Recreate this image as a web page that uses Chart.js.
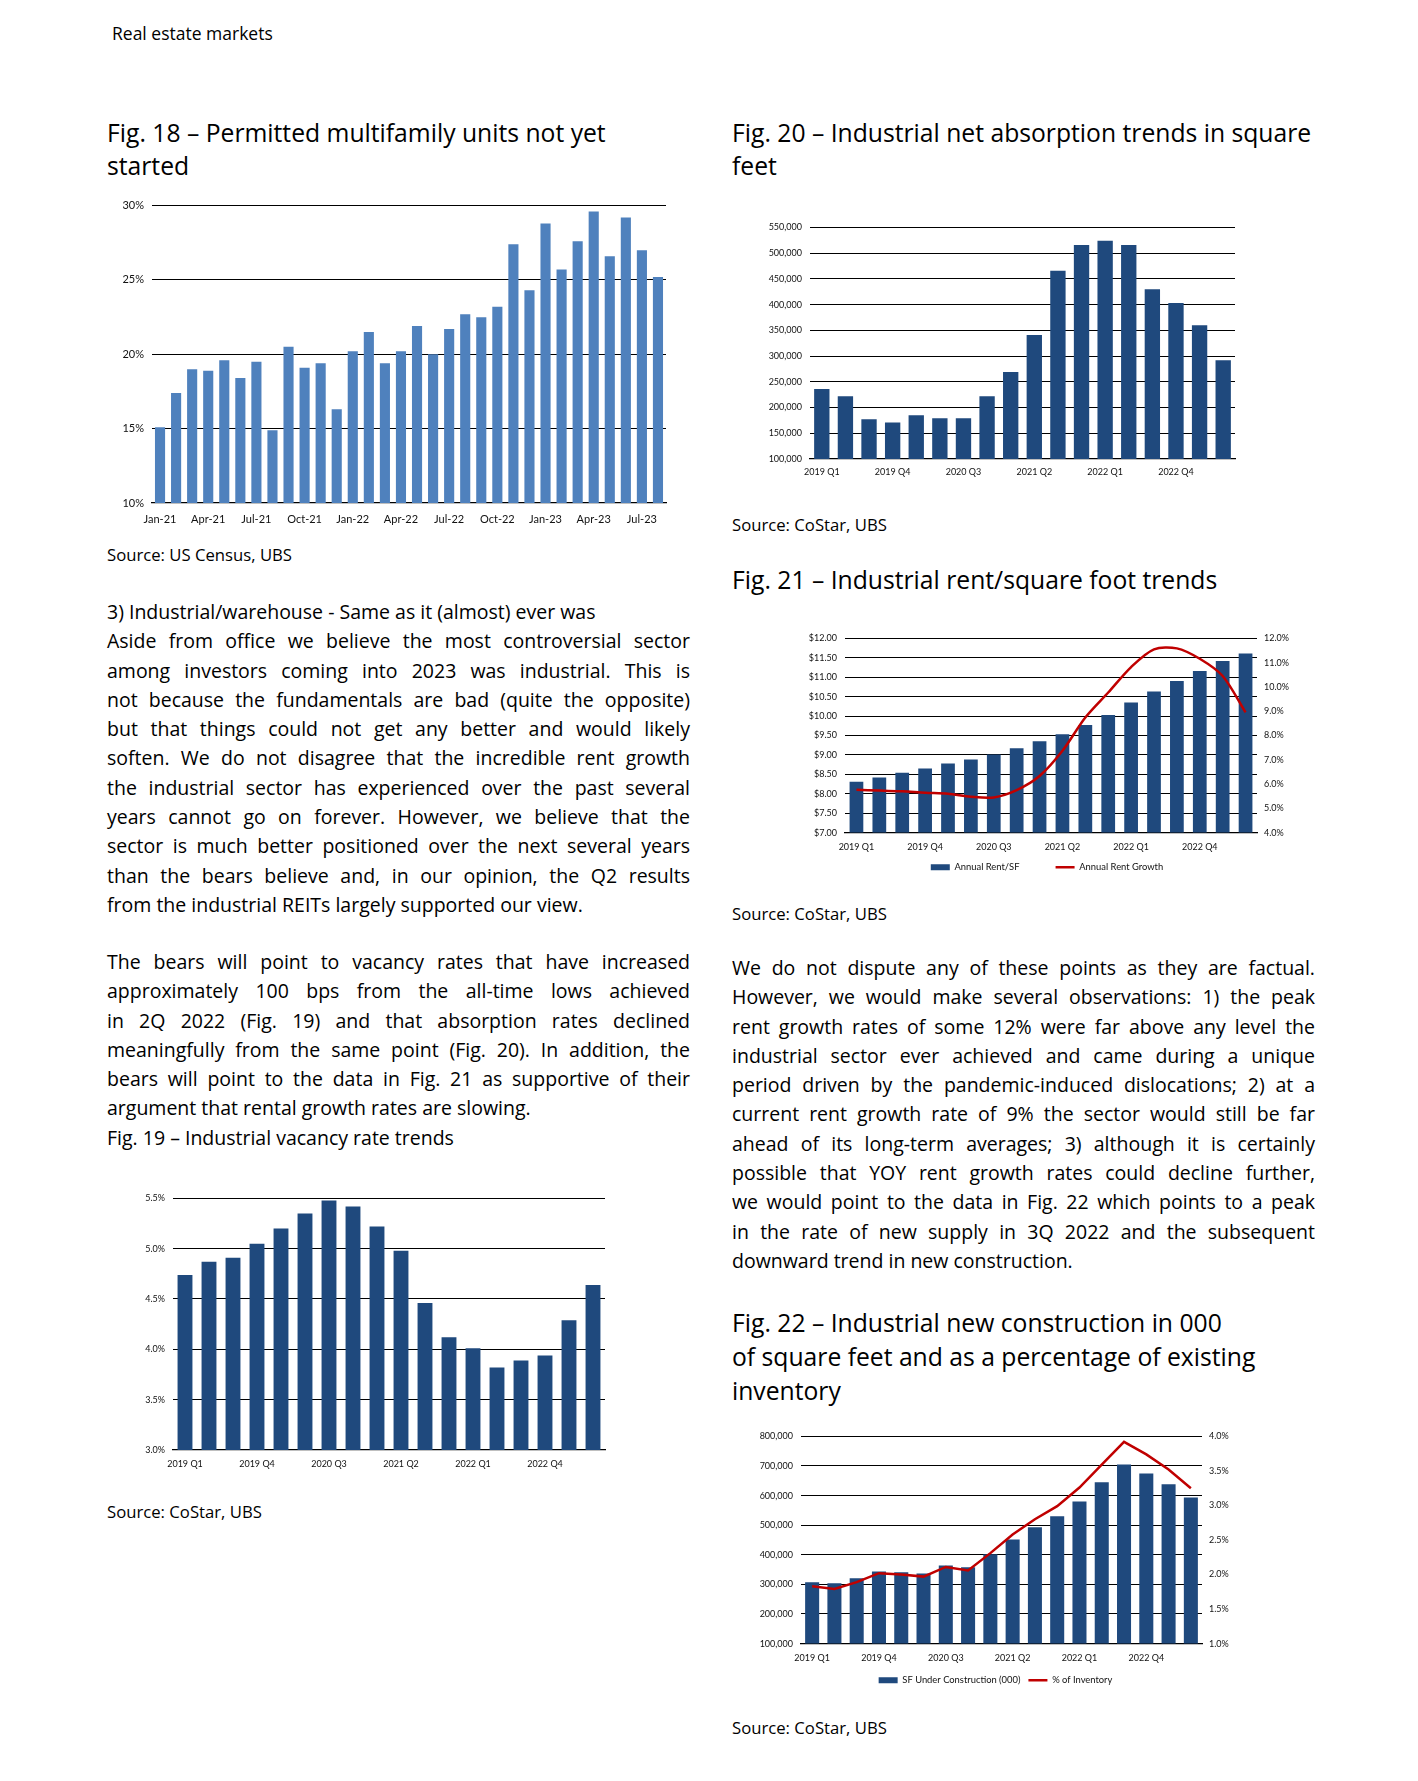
<!DOCTYPE html>
<html lang="en">
<head>
  <meta charset="UTF-8" />
  <title>Real estate markets</title>
  <style>
    * { box-sizing: border-box; }
    body {
      margin: 0;
      width: 1418px;
      height: 1781px;
      background: #fff;
      color: #000;
      font-family: 'Open Sans', 'Lato', sans-serif;
      position: relative;
      overflow: hidden;
    }
    .abs { position: absolute; }
    .header { left: 112px; top: 22px; font-size: 17.5px; line-height: 22px; }
    .title { font-size: 24.7px; line-height: 33px; }
    .source { font-size: 16.7px; line-height: 20px; }
    .para { font-size: 19.5px; line-height: 29.3px; width: 583px; }
    .para div { text-align: justify; text-align-last: justify; height: 29.3px; overflow: visible; }
    .para div.last { text-align: left; text-align-last: left; }
    .chart { position: absolute; }
  </style>
</head>
<body>

<div class="abs header">Real estate markets</div>

<!-- left column -->
<div class="abs title" style="left:107px; top:116px;">Fig. 18 – Permitted multifamily units not yet<br>started</div>
<div class="chart" id="box18"><canvas id="c18"></canvas></div>
<div class="abs source" style="left:107px; top:545px;">Source: US Census, UBS</div>

<div class="abs para" style="left:107px; top:597px;">
  <div class="last">3) Industrial/warehouse - Same as it (almost) ever was</div>
  <div>Aside from office we believe the most controversial sector</div>
  <div>among investors coming into 2023 was industrial. This is</div>
  <div>not because the fundamentals are bad (quite the opposite)</div>
  <div>but that things could not get any better and would likely</div>
  <div>soften. We do not disagree that the incredible rent growth</div>
  <div>the industrial sector has experienced over the past several</div>
  <div>years cannot go on forever. However, we believe that the</div>
  <div>sector is much better positioned over the next several years</div>
  <div>than the bears believe and, in our opinion, the Q2 results</div>
  <div class="last">from the industrial REITs largely supported our view.</div>
</div>

<div class="abs para" style="left:107px; top:947px;">
  <div>The bears will point to vacancy rates that have increased</div>
  <div>approximately 100 bps from the all-time lows achieved</div>
  <div>in 2Q 2022 (Fig. 19) and that absorption rates declined</div>
  <div>meaningfully from the same point (Fig. 20). In addition, the</div>
  <div>bears will point to the data in Fig. 21 as supportive of their</div>
  <div class="last">argument that rental growth rates are slowing.</div>
  <div class="last">Fig. 19 – Industrial vacancy rate trends</div>
</div>

<div class="chart" id="box19"><canvas id="c19"></canvas></div>
<div class="abs source" style="left:107px; top:1502px;">Source: CoStar, UBS</div>

<!-- right column -->
<div class="abs title" style="left:732px; top:116px;">Fig. 20 – Industrial net absorption trends in square<br>feet</div>
<div class="chart" id="box20"><canvas id="c20"></canvas></div>
<div class="abs source" style="left:732px; top:515px;">Source: CoStar, UBS</div>

<div class="abs title" style="left:732px; top:563px;">Fig. 21 – Industrial rent/square foot trends</div>
<div class="chart" id="box21"><canvas id="c21"></canvas></div>
<div class="abs source" style="left:732px; top:904px;">Source: CoStar, UBS</div>

<div class="abs para" style="left:732px; top:953px;">
  <div>We do not dispute any of these points as they are factual.</div>
  <div>However, we would make several observations: 1) the peak</div>
  <div>rent growth rates of some 12% were far above any level the</div>
  <div>industrial sector ever achieved and came during a unique</div>
  <div>period driven by the pandemic-induced dislocations; 2) at a</div>
  <div>current rent growth rate of 9% the sector would still be far</div>
  <div>ahead of its long-term averages; 3) although it is certainly</div>
  <div>possible that YOY rent growth rates could decline further,</div>
  <div>we would point to the data in Fig. 22 which points to a peak</div>
  <div>in the rate of new supply in 3Q 2022 and the subsequent</div>
  <div class="last">downward trend in new construction.</div>
</div>

<div class="abs title" style="left:732px; top:1306px; line-height:34px;">Fig. 22 – Industrial new construction in 000<br>of square feet and as a percentage of existing<br>inventory</div>
<div class="chart" id="box22"><canvas id="c22"></canvas></div>
<div class="abs source" style="left:732px; top:1718px;">Source: CoStar, UBS</div>

<script src="https://cdn.jsdelivr.net/npm/chart.js"></script>
<script>
// ---- data ----
const months = ['Jan-21','Feb-21','Mar-21','Apr-21','May-21','Jun-21','Jul-21','Aug-21','Sep-21','Oct-21','Nov-21','Dec-21',
  'Jan-22','Feb-22','Mar-22','Apr-22','May-22','Jun-22','Jul-22','Aug-22','Sep-22','Oct-22','Nov-22','Dec-22',
  'Jan-23','Feb-23','Mar-23','Apr-23','May-23','Jun-23','Jul-23','Aug-23'];
const permittedNotStarted = [15.1, 17.4, 19.0, 18.9, 19.6, 18.4, 19.5, 14.9, 20.5, 19.1, 19.4, 16.3,
  20.2, 21.5, 19.4, 20.2, 21.9, 20.0, 21.7, 22.7, 22.5, 23.2, 27.4, 24.3,
  28.8, 25.7, 27.6, 29.6, 26.6, 29.2, 27.0, 25.2];

const quarters = ['2019 Q1','2019 Q2','2019 Q3','2019 Q4','2020 Q1','2020 Q2','2020 Q3','2020 Q4','2021 Q1',
  '2021 Q2','2021 Q3','2021 Q4','2022 Q1','2022 Q2','2022 Q3','2022 Q4','2023 Q1','2023 Q2'];

const vacancyRate = [4.74, 4.87, 4.91, 5.05, 5.20, 5.35, 5.48, 5.42, 5.22, 4.98, 4.46, 4.12, 4.01, 3.82, 3.89, 3.94, 4.29, 4.64];

const netAbsorption = [236000, 222000, 177000, 171000, 185000, 179000, 179000, 222000, 269000,
  341000, 466000, 516000, 524000, 516000, 430000, 403000, 360000, 292000];

const rentPerSF = [8.31, 8.42, 8.54, 8.65, 8.78, 8.88, 9.01, 9.17, 9.35, 9.53, 9.77, 10.03, 10.35, 10.63, 10.90, 11.16, 11.42, 11.61];
const rentGrowth = [5.77, 5.73, 5.70, 5.64, 5.60, 5.48, 5.45, 5.75, 6.33, 7.37, 8.74, 9.77, 10.82, 11.55, 11.59, 11.16, 10.45, 8.95];

const sfUnderConstruction = [307000, 304000, 321000, 344000, 341000, 337000, 364000, 358000, 402000,
  452000, 493000, 530000, 580000, 645000, 705000, 675000, 638000, 594000];
const pctOfInventory = [1.83, 1.79, 1.89, 2.02, 2.00, 1.97, 2.11, 2.06, 2.31, 2.58, 2.80, 2.99, 3.26, 3.59, 3.92, 3.74, 3.52, 3.25];

// ---- layout helpers ----
Chart.defaults.font.family = 'Lato, "Open Sans", sans-serif';
Chart.defaults.color = '#111';
Chart.defaults.animation = false;

const NAVY = '#1f497d';
const BLUE = '#4f81bd';
const RED = '#c00000';

function place(id, left, top, w, h) {
  const el = document.getElementById(id);
  el.style.left = left + 'px';
  el.style.top = top + 'px';
  el.style.width = w + 'px';
  el.style.height = h + 'px';
}

function everyThird(labels) {
  return function (val, i) { return i % 3 === 0 ? labels[i] : ''; };
}

function xAxis(labels, size, h, pad) {
  return {
    grid: { display: false, drawTicks: false },
    border: { display: true, color: '#000', width: 1.2 },
    ticks: { autoSkip: false, maxRotation: 0, minRotation: 0, padding: pad,
             font: { size: size }, callback: everyThird(labels) },
    afterFit: s => { s.height = h; }
  };
}

function yAxis(min, max, step, fmt, size, w, pos) {
  return {
    position: pos || 'left',
    min: min, max: max,
    grid: pos === 'right' ? { display: false, drawTicks: false }
                          : { color: '#000', lineWidth: 1.1, drawTicks: false },
    border: { display: false },
    ticks: { stepSize: step, padding: pos === 'right' ? 7 : 8, font: { size: size }, callback: fmt },
    afterFit: s => { s.width = w; }
  };
}

const noLegend = { legend: { display: false }, tooltip: { enabled: false } };

// Fig. 18
place('box18', 114, 191, 562, 336);
new Chart(document.getElementById('c18'), {
  type: 'bar',
  data: { labels: months, datasets: [{ data: permittedNotStarted, backgroundColor: BLUE,
          categoryPercentage: 0.63, barPercentage: 1 }] },
  options: {
    responsive: true, maintainAspectRatio: false,
    layout: { padding: { top: 8, right: 10 } },
    plugins: noLegend,
    scales: {
      x: xAxis(months, 11, 24, 10),
      y: yAxis(10, 30, 5, v => v + '%', 11, 38)
    }
  }
});

// Fig. 19
place('box19', 135, 1185, 480, 287);
new Chart(document.getElementById('c19'), {
  type: 'bar',
  data: { labels: quarters, datasets: [{ data: vacancyRate, backgroundColor: NAVY,
          categoryPercentage: 0.62, barPercentage: 1 }] },
  options: {
    responsive: true, maintainAspectRatio: false,
    layout: { padding: { top: 8, right: 10 } },
    plugins: noLegend,
    scales: {
      x: xAxis(quarters, 9, 22, 9),
      y: yAxis(3, 5.5, 0.5, v => v.toFixed(1) + '%', 9, 38)
    }
  }
});

// Fig. 20
place('box20', 764, 214, 481, 267);
new Chart(document.getElementById('c20'), {
  type: 'bar',
  data: { labels: quarters, datasets: [{ data: netAbsorption, backgroundColor: NAVY,
          categoryPercentage: 0.65, barPercentage: 1 }] },
  options: {
    responsive: true, maintainAspectRatio: false,
    layout: { padding: { top: 8, right: 10 } },
    plugins: noLegend,
    scales: {
      x: xAxis(quarters, 9, 22, 8),
      y: yAxis(100000, 550000, 50000, v => v.toLocaleString('en-US'), 9, 46)
    }
  }
});

// legend; gap = extra spacing after the first entry
function legendOpts(gap) {
  return {
    display: true, position: 'bottom',
    labels: {
      usePointStyle: true, pointStyleWidth: 19, boxHeight: 6, padding: 8,
      font: { size: 9.4 }, color: '#111',
      generateLabels: chart => {
        const items = Chart.defaults.plugins.legend.labels.generateLabels(chart);
        items.sort((a, b) => a.datasetIndex - b.datasetIndex);
        items[0].text = items[0].text + gap;
        return items;
      }
    }
  };
}

// Fig. 21
place('box21', 803, 625, 488, 257);
new Chart(document.getElementById('c21'), {
  type: 'bar',
  data: {
    labels: quarters,
    datasets: [
      { label: 'Annual Rent/SF', data: rentPerSF, backgroundColor: NAVY, pointStyle: 'rect',
        categoryPercentage: 0.6, barPercentage: 1, yAxisID: 'y', order: 2 },
      { label: 'Annual Rent Growth', type: 'line', data: rentGrowth, borderColor: RED, backgroundColor: RED,
        borderWidth: 2.5, pointRadius: 0, pointStyle: 'line', tension: 0.3, yAxisID: 'y1', order: 1 }
    ]
  },
  options: {
    responsive: true, maintainAspectRatio: false,
    layout: { padding: { top: 8, bottom: 0 } },
    plugins: { legend: legendOpts('\u2003\u2003\u2003\u2003'), tooltip: { enabled: false } },
    scales: {
      x: xAxis(quarters, 9, 22, 9),
      y: yAxis(7, 12, 0.5, v => '$' + v.toFixed(2), 9, 42),
      y1: yAxis(4, 12, 1, v => v.toFixed(1) + '%', 9, 34, 'right')
    }
  }
});

// Fig. 22
place('box22', 755, 1423, 481, 272);
new Chart(document.getElementById('c22'), {
  type: 'bar',
  data: {
    labels: quarters,
    datasets: [
      { label: 'SF Under Construction (000)', data: sfUnderConstruction, backgroundColor: NAVY, pointStyle: 'rect',
        categoryPercentage: 0.63, barPercentage: 1, yAxisID: 'y', order: 2 },
      { label: '% of Inventory', type: 'line', data: pctOfInventory, borderColor: RED, backgroundColor: RED,
        borderWidth: 2.5, pointRadius: 0, pointStyle: 'line', tension: 0, yAxisID: 'y1', order: 1 }
    ]
  },
  options: {
    responsive: true, maintainAspectRatio: false,
    layout: { padding: { top: 8, bottom: 0 } },
    plugins: { legend: legendOpts(''), tooltip: { enabled: false } },
    scales: {
      x: xAxis(quarters, 9, 24, 9),
      y: yAxis(100000, 800000, 100000, v => v.toLocaleString('en-US'), 9, 46),
      y1: yAxis(1, 4, 0.5, v => v.toFixed(1) + '%', 9, 34, 'right')
    }
  }
});

// squeeze justified lines that would wrap
document.querySelectorAll('.para div').forEach(el => {
  let ls = 0;
  while (el.scrollHeight > 40 && ls > -1.5) {
    ls -= 0.1;
    el.style.letterSpacing = ls + 'px';
  }
});
</script>
</body>
</html>
